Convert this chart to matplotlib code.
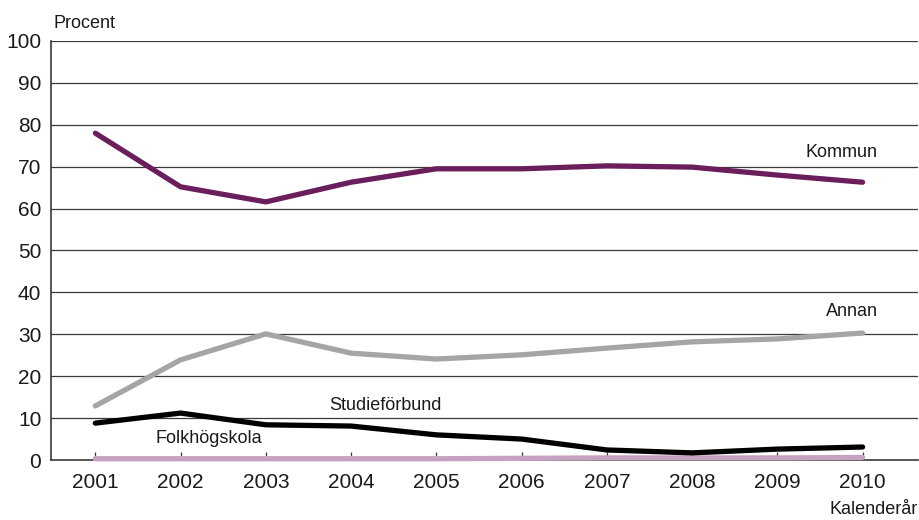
import matplotlib
matplotlib.use("Agg")
import matplotlib.pyplot as plt

years = [2001, 2002, 2003, 2004, 2005, 2006, 2007, 2008, 2009, 2010]
kommun = [78.0, 65.2, 61.6, 66.3, 69.5, 69.5, 70.2, 69.9, 68.0, 66.3]
annan = [12.9, 23.9, 30.1, 25.5, 24.1, 25.1, 26.7, 28.2, 28.9, 30.3]
studieforbund = [8.8, 11.2, 8.4, 8.1, 6.0, 5.0, 2.4, 1.7, 2.6, 3.1]
folkhogskola = [0.3, 0.3, 0.3, 0.3, 0.3, 0.4, 0.5, 0.5, 0.5, 0.6]
yticks = list(range(0, 101, 10))

plt.rcParams['font.family'] = ['Liberation Sans', 'DejaVu Sans']

fig = plt.figure(figsize=(9.2, 5.2), dpi=100)
ax = fig.add_axes([51/920, 60/520, 867/920, 419/520])

for v in yticks[1:]:
    ax.axhline(v, color='#3a3a3a', lw=0.9, zorder=1)

lw = 3.8
ax.plot(years, folkhogskola, color='#C7A2C0', lw=lw, solid_capstyle='round', zorder=3, clip_on=False)
ax.plot(years, studieforbund, color='#000000', lw=lw, solid_capstyle='round', zorder=4)
ax.plot(years, annan, color='#A5A5A5', lw=lw, solid_capstyle='round', zorder=3)
ax.plot(years, kommun, color='#6B1E5C', lw=lw, solid_capstyle='round', zorder=3)

ax.set_xlim(2000.48, 2010.65)
ax.set_ylim(0, 100)
ax.set_yticks(yticks)
ax.set_xticks(years)
ax.tick_params(axis='y', length=0, labelsize=15, pad=7, colors='#1a1a1a')
ax.tick_params(axis='x', direction='in', length=6, width=0.9, color='#3a3a3a',
               labelsize=15, pad=9, labelcolor='#1a1a1a')
for s in ['top', 'right']:
    ax.spines[s].set_visible(False)
ax.spines['left'].set_color('#3a3a3a')
ax.spines['left'].set_linewidth(1.2)
ax.spines['bottom'].set_color('#3a3a3a')
ax.spines['bottom'].set_linewidth(1.2)

fig.text(54/920, 1 - 23/520, 'Procent', fontsize=13, ha='left', va='center', color='#1a1a1a')
fig.text(918/920, 1 - 510/520, 'Kalenderår', fontsize=13, ha='right', va='center', color='#1a1a1a')

ax.text(2009.75, 73.5, 'Kommun', fontsize=13, ha='center', va='center', color='#1a1a1a')
ax.text(2009.88, 35.5, 'Annan', fontsize=13, ha='center', va='center', color='#1a1a1a')
ax.text(2004.40, 12.9, 'Studieförbund', fontsize=13, ha='center', va='center', color='#1a1a1a')
ax.text(2002.33, 5.1, 'Folkhögskola', fontsize=13, ha='center', va='center', color='#1a1a1a')

fig.savefig('out.png', dpi=100)
